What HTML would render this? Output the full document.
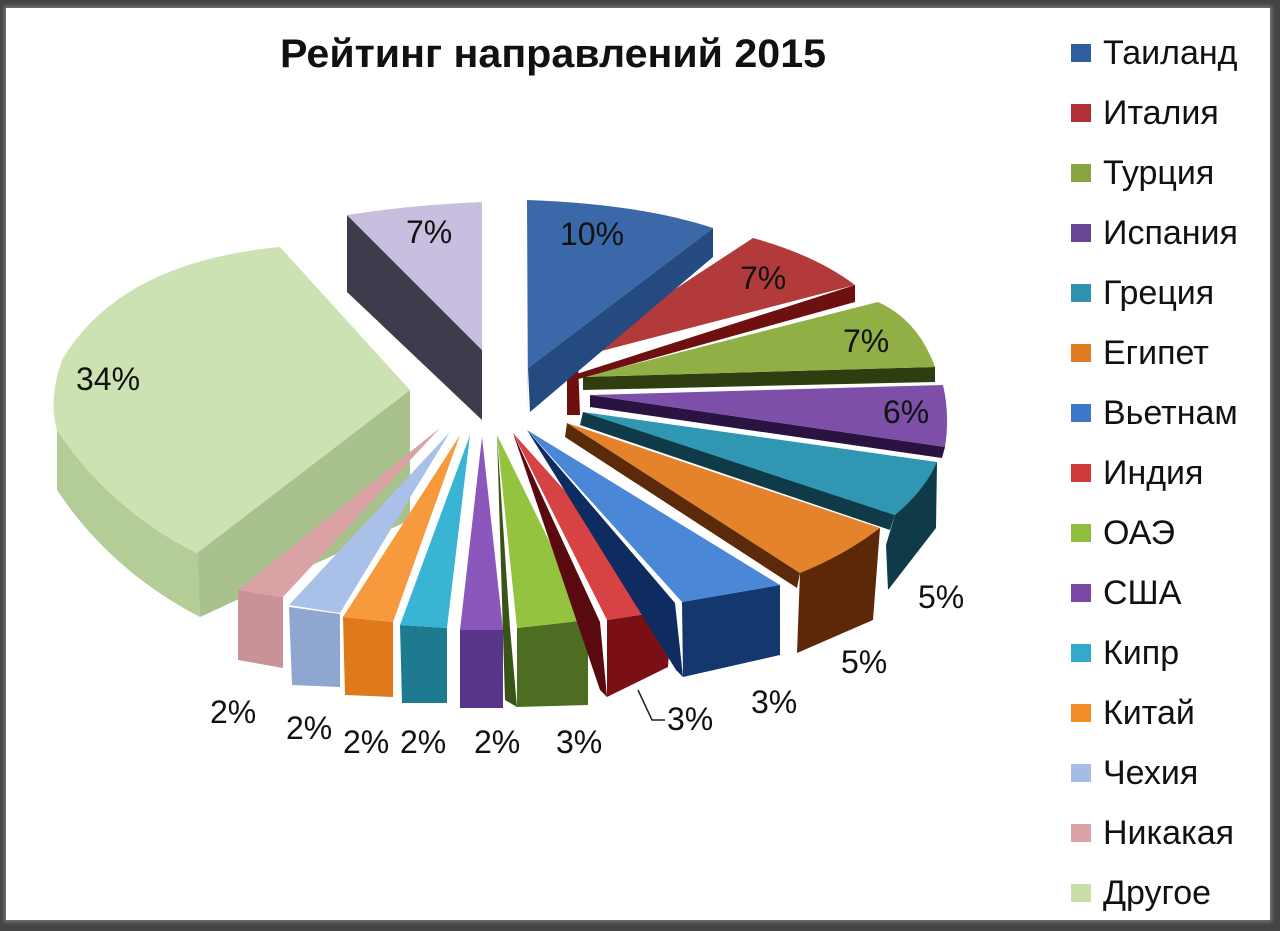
<!DOCTYPE html>
<html><head><meta charset="utf-8"><style>
html,body{margin:0;padding:0;background:#3a3a3a}
.wrap{position:relative;width:1280px;height:931px;overflow:hidden;background:#444}
.inner{position:absolute;left:6px;top:8px;width:1264px;height:912px;background:#fff;box-shadow:0 0 4px 2px #777}
svg{position:absolute;left:0;top:0}
text{font-family:"Liberation Sans",sans-serif;fill:#111}
</style></head><body><div class="wrap"><div class="inner"></div>
<svg width="1280" height="931" viewBox="0 0 1280 931">
<text x="553" y="67" font-size="40" font-weight="bold" text-anchor="middle" textLength="546" lengthAdjust="spacingAndGlyphs">Рейтинг направлений 2015</text>
<!-- Other -->
<path d="M57,430 Q110,510 197,553 L200,617 Q110,570 57,490 Z" fill="#b4cc96"/>
<path d="M197,553 L410,390 L410,520 L200,617 Z" fill="#a9c18c"/>
<path d="M410,390 L280,247 Q120,262 62,360 Q48,400 57,430 Q110,510 197,553 Z" fill="#cde2b2"/>
<!-- lavender -->
<path d="M347,215 L482,350 L482,420 L347,292 Z" fill="#3e3b4c"/>
<path d="M347,215 Q410,205 482,202 L482,350 Z" fill="#c8bfe0"/>
<!-- small slices -->
<path d="M238,590 L283,597 L283,668 L238,660 Z" fill="#c99296"/>
<path d="M440,428 L238,590 L283,597 Z" fill="#dba2a5"/>
<path d="M289,607 L340,614 L340,687 L292,685 Z" fill="#8fa6d0"/>
<path d="M450,432 L289,605 L340,613 Z" fill="#a9c0e8"/>
<path d="M343,617 L393,622 L393,697 L345,695 Z" fill="#df7a1c"/>
<path d="M460,435 L343,617 L393,622 Z" fill="#f79a3e"/>
<path d="M400,625 L447,628 L447,703 L402,703 Z" fill="#1e7a8e"/>
<path d="M470,435 L400,625 L447,628 Z" fill="#3ab4d4"/>
<path d="M460,630 L503,630 L503,708 L460,708 Z" fill="#58358a"/>
<path d="M482,437 L460,630 L503,630 Z" fill="#8b57bb"/>
<path d="M497,435 L510,628 L517,707 L505,700 Z" fill="#3a5418"/>
<path d="M517,628 L588,620 L588,705 L517,707 Z" fill="#4d6d22"/>
<path d="M497,435 L517,628 L588,620 Z" fill="#93c33f"/>
<path d="M513,433 L600,622 L607,697 L600,690 Z" fill="#5a0a0e"/>
<path d="M607,620 L672,610 L668,667 L607,697 Z" fill="#7a1016"/>
<path d="M513,433 L607,620 L672,610 Z" fill="#d74244"/>
<path d="M527,430 L675,603 L683,677 L676,670 Z" fill="#0f2c60"/>
<path d="M682,602 L780,585 L780,655 L683,677 Z" fill="#14386e"/>
<path d="M527,430 L682,602 L780,585 Z" fill="#4b87d7"/>
<!-- Egypt -->
<path d="M567,423 L800,573 L797,588 L565,437 Z" fill="#5a2a0a"/>
<path d="M800,573 L880,528 L873,620 L797,653 Z" fill="#5c2808"/>
<path d="M567,423 L880,528 Q845,555 800,573 Z" fill="#e5822c"/>
<!-- Greece -->
<path d="M583,412 L895,515 L890,530 L580,425 Z" fill="#0f3a48"/>
<path d="M895,515 L937,462 L936,528 L888,590 L886,545 Z" fill="#0f3a48"/>
<path d="M583,412 L937,462 Q925,490 895,515 Z" fill="#2f97b2"/>
<!-- Spain -->
<path d="M590,395 L945,447 L942,458 L590,407 Z" fill="#2a1340"/>
<path d="M590,395 L943,385 Q950,415 945,447 Z" fill="#7d4fa8"/>
<!-- Turkey -->
<path d="M935,367 L935,382 L583,390 L583,377 Z" fill="#2e3e10"/>
<path d="M583,377 L878,302 Q918,320 935,367 Z" fill="#90af45"/>
<!-- Italy -->
<path d="M855,285 L855,302 L575,380 L567,377 Z" fill="#6e1010"/>
<path d="M567,360 L578,362 L580,415 L567,415 Z" fill="#6e1010"/>
<path d="M567,360 L753,238 Q815,255 855,285 Z" fill="#b23a3a"/>
<!-- Thailand -->
<path d="M713,228 L713,257 L530,412 L528,368 Z" fill="#244a80"/>
<path d="M527,200 Q640,204 713,228 L528,368 L528,412 Z" fill="#3a68a8"/>
<!-- labels -->
<g font-size="32">
<text x="560" y="245">10%</text>
<text x="740" y="289">7%</text>
<text x="843" y="352">7%</text>
<text x="883" y="423">6%</text>
<text x="918" y="608">5%</text>
<text x="841" y="673">5%</text>
<text x="751" y="713">3%</text>
<text x="667" y="730">3%</text>
<text x="556" y="753">3%</text>
<text x="474" y="753">2%</text>
<text x="400" y="753">2%</text>
<text x="343" y="753">2%</text>
<text x="286" y="739">2%</text>
<text x="210" y="723">2%</text>
<text x="76" y="390">34%</text>
<text x="406" y="243">7%</text>
</g>
<polyline points="638,690 652,720 665,720" fill="none" stroke="#222" stroke-width="1.5"/>
<!-- legend -->
<g font-size="34">
<rect x="1071" y="44" width="20" height="18" fill="#2f5f9e"/><text x="1103" y="64">Таиланд</text>
<rect x="1071" y="104" width="20" height="18" fill="#b03035"/><text x="1103" y="124">Италия</text>
<rect x="1071" y="164" width="20" height="18" fill="#86a440"/><text x="1103" y="184">Турция</text>
<rect x="1071" y="224" width="20" height="18" fill="#6a4593"/><text x="1103" y="244">Испания</text>
<rect x="1071" y="284" width="20" height="18" fill="#2f92b0"/><text x="1103" y="304">Греция</text>
<rect x="1071" y="344" width="20" height="18" fill="#e07b22"/><text x="1103" y="364">Египет</text>
<rect x="1071" y="404" width="20" height="18" fill="#3f78c8"/><text x="1103" y="424">Вьетнам</text>
<rect x="1071" y="464" width="20" height="18" fill="#cc3a3c"/><text x="1103" y="484">Индия</text>
<rect x="1071" y="524" width="20" height="18" fill="#8fbd3c"/><text x="1103" y="544">ОАЭ</text>
<rect x="1071" y="584" width="20" height="18" fill="#7a4aa6"/><text x="1103" y="604">США</text>
<rect x="1071" y="644" width="20" height="18" fill="#33aacb"/><text x="1103" y="664">Кипр</text>
<rect x="1071" y="704" width="20" height="18" fill="#f28e2a"/><text x="1103" y="724">Китай</text>
<rect x="1071" y="764" width="20" height="18" fill="#a5bde6"/><text x="1103" y="784">Чехия</text>
<rect x="1071" y="824" width="20" height="18" fill="#dba3a6"/><text x="1103" y="844">Никакая</text>
<rect x="1071" y="884" width="20" height="18" fill="#c8dea8"/><text x="1103" y="904">Другое</text>
</g>
</svg></div></body></html>
